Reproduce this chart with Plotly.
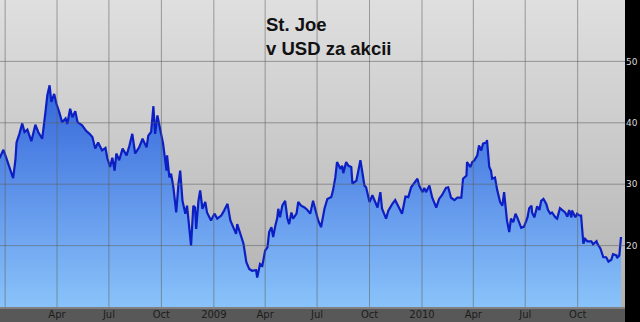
import plotly.graph_objects as go

# ---- data: St. Joe share price (USD) ----
dates = [
    "2007-12-22", "2007-12-29", "2008-01-03", "2008-01-08", "2008-01-15", "2008-01-19",
    "2008-01-21", "2008-01-26", "2008-01-31", "2008-02-04", "2008-02-09", "2008-02-16",
    "2008-02-23", "2008-02-28", "2008-03-06", "2008-03-12", "2008-03-15", "2008-03-19",
    "2008-03-22", "2008-03-27", "2008-03-31", "2008-04-05", "2008-04-10", "2008-04-16",
    "2008-04-19", "2008-04-24", "2008-04-28", "2008-05-03", "2008-05-07", "2008-05-15",
    "2008-05-22", "2008-05-28", "2008-06-02", "2008-06-07", "2008-06-12", "2008-06-19",
    "2008-06-25", "2008-06-28", "2008-07-03", "2008-07-07", "2008-07-11", "2008-07-14",
    "2008-07-19", "2008-07-25", "2008-08-01", "2008-08-06", "2008-08-11", "2008-08-16",
    "2008-08-23", "2008-08-29", "2008-09-05", "2008-09-08", "2008-09-13", "2008-09-17",
    "2008-09-20", "2008-09-24", "2008-09-29", "2008-10-04", "2008-10-10", "2008-10-11",
    "2008-10-15", "2008-10-18", "2008-10-22", "2008-10-27", "2008-10-31", "2008-11-03",
    "2008-11-07", "2008-11-12", "2008-11-15", "2008-11-17", "2008-11-22", "2008-11-26",
    "2008-11-29", "2008-12-01", "2008-12-05", "2008-12-08", "2008-12-12", "2008-12-17",
    "2008-12-20", "2008-12-27", "2009-01-02", "2009-01-07", "2009-01-14", "2009-01-19",
    "2009-01-25", "2009-01-30", "2009-02-04", "2009-02-09", "2009-02-11", "2009-02-18",
    "2009-02-22", "2009-02-27", "2009-03-04", "2009-03-09", "2009-03-16", "2009-03-18",
    "2009-03-23", "2009-03-27", "2009-04-01", "2009-04-05", "2009-04-08", "2009-04-12",
    "2009-04-15", "2009-04-19", "2009-04-22", "2009-04-24", "2009-04-27", "2009-05-01",
    "2009-05-06", "2009-05-10", "2009-05-13", "2009-05-17", "2009-05-20", "2009-05-26",
    "2009-05-29", "2009-06-03", "2009-06-09", "2009-06-14", "2009-06-19", "2009-06-24",
    "2009-06-30", "2009-07-03", "2009-07-08", "2009-07-14", "2009-07-19", "2009-07-26",
    "2009-07-29", "2009-08-02", "2009-08-05", "2009-08-11", "2009-08-14", "2009-08-16",
    "2009-08-21", "2009-08-25", "2009-08-30", "2009-09-01", "2009-09-08", "2009-09-09",
    "2009-09-15", "2009-09-18", "2009-09-22", "2009-09-25", "2009-10-01", "2009-10-06",
    "2009-10-09", "2009-10-15", "2009-10-20", "2009-10-23", "2009-10-30", "2009-11-03",
    "2009-11-10", "2009-11-15", "2009-11-20", "2009-11-27", "2009-12-03", "2009-12-08",
    "2009-12-13", "2009-12-18", "2009-12-24", "2009-12-27", "2010-01-02", "2010-01-05",
    "2010-01-08", "2010-01-14", "2010-01-19", "2010-01-26", "2010-01-31", "2010-02-05",
    "2010-02-12", "2010-02-16", "2010-02-21", "2010-02-27", "2010-03-04", "2010-03-11",
    "2010-03-14", "2010-03-20", "2010-03-21", "2010-03-27", "2010-03-30", "2010-04-03",
    "2010-04-08", "2010-04-11", "2010-04-15", "2010-04-18", "2010-04-24", "2010-04-25",
    "2010-04-29", "2010-05-02", "2010-05-04", "2010-05-09", "2010-05-13", "2010-05-18",
    "2010-05-22", "2010-05-25", "2010-05-29", "2010-05-30", "2010-06-03", "2010-06-06",
    "2010-06-10", "2010-06-14", "2010-06-17", "2010-06-21", "2010-06-24", "2010-06-29",
    "2010-07-05", "2010-07-08", "2010-07-12", "2010-07-13", "2010-07-17", "2010-07-22",
    "2010-07-26", "2010-07-29", "2010-08-02", "2010-08-07", "2010-08-10", "2010-08-14",
    "2010-08-17", "2010-08-23", "2010-08-26", "2010-08-31", "2010-09-04", "2010-09-09",
    "2010-09-13", "2010-09-16", "2010-09-20", "2010-09-21", "2010-09-27", "2010-09-30",
    "2010-10-04", "2010-10-07", "2010-10-11", "2010-10-14", "2010-10-18", "2010-10-25",
    "2010-10-28", "2010-11-03", "2010-11-04", "2010-11-10", "2010-11-15", "2010-11-20",
    "2010-11-24", "2010-11-29", "2010-12-02", "2010-12-08", "2010-12-09", "2010-12-13",
    "2010-12-16",
]
prices = [
    34.2, 35.6, 34.3, 32.8, 31.0, 33.9,
    36.8, 38.2, 39.9, 38.5, 38.9, 37.0,
    39.7, 38.5, 37.4, 42.0, 44.5, 46.1,
    43.4, 44.7, 43.1, 41.7, 40.1, 40.7,
    39.8, 42.3, 40.9, 41.9, 40.1, 39.6,
    38.7, 38.2, 37.7, 35.8, 36.8, 35.5,
    35.9, 34.3, 32.8, 34.3, 32.2, 35.0,
    33.9, 35.8, 34.7, 36.3, 38.2, 35.0,
    36.0, 37.4, 36.0, 37.9, 38.5, 42.7,
    38.2, 41.2, 39.0, 36.6, 32.2, 34.7,
    31.1, 31.7, 29.5, 25.4, 30.1, 32.2,
    27.3, 25.2, 26.5, 24.6, 20.0, 26.5,
    26.2, 22.7, 27.3, 29.0, 26.0, 27.1,
    25.4, 24.1, 25.2, 24.4, 24.9, 25.7,
    26.8, 24.1, 23.0, 21.9, 23.5, 21.6,
    20.3, 17.3, 16.2, 15.9, 16.0, 14.8,
    17.0, 16.7, 19.2, 19.7, 22.2, 23.0,
    21.4, 23.3, 24.4, 26.0, 24.6, 26.5,
    27.3, 24.4, 23.5, 25.4, 24.4, 25.2,
    27.1, 26.5, 26.2, 25.8, 25.2, 27.3,
    25.2, 24.1, 23.0, 26.0, 27.6, 27.9,
    29.0, 31.1, 33.6, 32.5, 33.0, 31.8,
    33.6, 33.0, 32.8, 30.1, 30.6, 31.1,
    33.9, 32.2, 29.8, 29.5, 27.1, 28.2,
    27.6, 26.2, 28.7, 26.0, 24.4, 25.7,
    26.8, 27.4, 26.5, 25.2, 28.0, 27.9,
    29.5, 30.2, 30.9, 29.8, 28.7, 29.4,
    28.7, 29.8, 27.8, 26.2, 27.6, 28.2,
    29.4, 29.5, 27.8, 27.4, 27.8, 27.8,
    30.9, 31.4, 33.6, 32.8, 33.6, 33.9,
    34.7, 36.3, 35.5, 36.6, 36.8, 37.2,
    32.8, 32.2, 30.9, 31.1, 29.0, 27.1,
    26.5, 28.7, 25.2, 24.1, 22.2, 24.4,
    23.8, 25.2, 24.6, 23.5, 22.9, 23.1,
    24.6, 26.1, 26.5, 25.4, 24.6, 26.4,
    25.8, 27.3, 27.6, 26.8, 25.8, 25.2,
    25.4, 24.6, 24.4, 26.1, 25.8, 25.4,
    24.7, 25.8, 24.6, 25.7, 24.6, 25.2,
    24.9, 24.9, 20.3, 21.1, 20.7, 20.7,
    20.2, 20.7, 20.4, 19.5, 18.1, 18.1,
    17.4, 17.7, 18.6, 18.4, 18.0, 18.4,
    21.4,
]

x_tick_vals = ["2008-04-01", "2008-07-01", "2008-10-01", "2009-01-01", "2009-04-01",
               "2009-07-01", "2009-10-01", "2010-01-01", "2010-04-01", "2010-07-01",
               "2010-10-01"]
x_tick_text = ["Apr", "Jul", "Oct", "2009", "Apr", "Jul", "Oct", "2010", "Apr", "Jul", "Oct"]
x_grid_vals = ["2008-01-01"] + x_tick_vals
y_tick_vals = [20, 30, 40, 50]
y_tick_text = ["20", "30", "40", "50"]

x_range = ["2007-12-23", "2010-12-23"]
y_range = [10, 60]

title_text = "St. Joe<br>v USD za akcii"

fig = go.Figure()

# gradient background of the plot area
fig.add_trace(go.Scatter(
    x=x_range, y=[y_range[1], y_range[1]], mode="none", fill="tozeroy",
    fillgradient=dict(type="vertical", start=y_range[0], stop=y_range[1],
                      colorscale=[[0, "#b2b2b2"], [1, "#dfdfdf"]]),
    hoverinfo="skip", showlegend=False,
))

# price area
fig.add_trace(go.Scatter(
    x=dates, y=prices, mode="lines", fill="tozeroy",
    line=dict(color="#0c1fc4", width=2.2),
    fillgradient=dict(type="vertical", start=10, stop=46,
                      colorscale=[[0, "#8ac3fa"], [1, "#3566da"]]),
    hoverinfo="x+y", showlegend=False,
))

shapes = []
# bottom dark strip
shapes.append(dict(type="rect", xref="paper", yref="paper", x0=0, x1=1,
                   y0=-16 / 307, y1=0, fillcolor="#585858", line=dict(width=0),
                   layer="below"))
shapes.append(dict(type="line", xref="paper", yref="paper", x0=0, x1=1,
                   y0=-1 / 307, y1=-1 / 307, line=dict(color="#8e8e8e", width=1.5),
                   layer="below"))
# grid lines drawn on top of the fill
for v in x_grid_vals:
    shapes.append(dict(type="line", xref="x", yref="paper", x0=v, x1=v, y0=0, y1=1,
                       line=dict(color="rgba(95,95,95,0.55)", width=1), layer="above"))
for v in y_tick_vals:
    shapes.append(dict(type="line", xref="paper", yref="y", x0=0, x1=1, y0=v, y1=v,
                       line=dict(color="rgba(95,95,95,0.55)", width=1), layer="above"))

fig.update_layout(
    width=640, height=322,
    margin=dict(l=0, r=15, t=0, b=15),
    paper_bgcolor="#000000",
    plot_bgcolor="#cccccc",
    showlegend=False,
    shapes=shapes,
    xaxis=dict(
        type="date", range=x_range, showgrid=False, zeroline=False,
        tickmode="array", tickvals=x_tick_vals, ticktext=x_tick_text,
        ticks="", tickfont=dict(family="DejaVu Sans", size=10, color="#1c1c1c"),
        ticklabelstandoff=0, showline=False, fixedrange=True,
    ),
    yaxis=dict(
        range=y_range, side="right", showgrid=False, zeroline=False,
        tickmode="array", tickvals=y_tick_vals, ticktext=y_tick_text,
        ticks="", tickfont=dict(family="DejaVu Sans", size=9, color="#d8d8d8"),
        ticklabelstandoff=0, showline=False, fixedrange=True,
    ),
    annotations=[dict(
        text="<b>" + title_text.replace("<br>", "</b><br><b>") + "</b>",
        xref="paper", yref="paper", x=264 / 625, y=1 - 12 / 307,
        xanchor="left", yanchor="top", showarrow=False, align="left",
        font=dict(family="Liberation Sans, Arial", size=18.5, color="#111111"),
    )],
)

fig.write_html("out.html")
